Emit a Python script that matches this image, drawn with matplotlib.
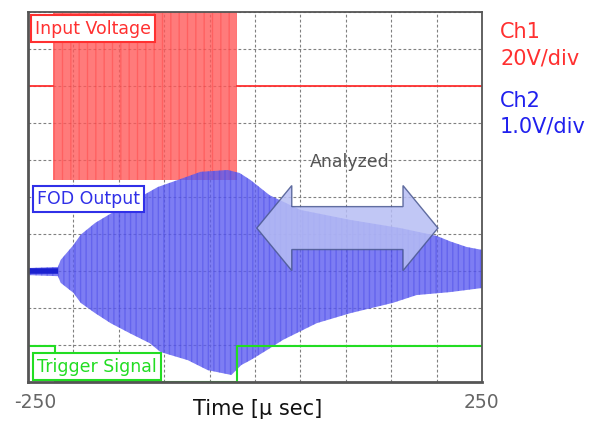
"""Oscilloscope capture: input burst, FOD output and trigger."""
import numpy as np
import matplotlib
matplotlib.use("Agg")
import matplotlib.pyplot as plt
from matplotlib.patches import Polygon

plt.rcParams["font.family"] = ["DejaVu Sans"]

# time axis in microseconds, vertical axis in divisions (0..10)
x_ticks = [-250, -200, -150, -100, -50, 0, 50, 100, 150, 200, 250]
end_labels = ["-250", "250"]

# Ch1: input voltage (baseline + burst, clipped at the top)
ch1_level = 8.0
ch1_line_t = [[-250, -222.5], [-20, 250]]
burst_t = [-222.5, -20]
burst_low = 5.46
burst_high = 10.54

# Ch2: FOD output envelope
upper_t = [-250, -217, -214, -200, -192, -176, -159, -138, -107, -85, -60,
           -30, -17, -5, 16, 50, 105, 160, 200, 215, 233, 250]
upper_v = [3.08, 3.11, 3.30, 3.70, 3.98, 4.30, 4.55, 4.84, 5.27, 5.46, 5.68,
           5.73, 5.65, 5.46, 5.05, 4.65, 4.38, 4.16, 3.95, 3.80, 3.65, 3.57]
lower_t = [-250, -217, -214, -200, -192, -176, -159, -138, -116, -104, -74,
           -52, -26, -15, -5, 13, 31, 68, 105, 152, 178, 215, 250]
lower_v = [2.89, 2.86, 2.68, 2.41, 2.14, 1.86, 1.59, 1.32, 1.05, 0.81, 0.59,
           0.32, 0.19, 0.46, 0.59, 0.86, 1.14, 1.59, 1.86, 2.14, 2.35, 2.43, 2.54]
quiet_t = [-250, -217]
quiet_v = [3.0, 3.0]

# trigger signal
trig_t = [-250, -220, -220, -20, -20, 250]
trig_v = [0.97, 0.97, 0.0, 0.0, 0.97, 0.97]

# "Analyzed" double arrow
arrow_t0, arrow_t1 = 2, 201.5
arrow_y = 4.16
shaft_half = 0.58
head_half = 1.15
head_len = 38.5

RED = "#ff3030"
BLUE = "#2020ee"
GREEN = "#22dd22"

fig = plt.figure(figsize=(5.9, 4.21), dpi=100)
ax = fig.add_axes([28 / 590, 39 / 421, 454 / 590, 370 / 421])
ax.set_xlim(-250, 250)
ax.set_ylim(0, 10)
ax.set_xticks(x_ticks)
ax.set_xticklabels([])
ax.set_yticks(range(11))
ax.set_yticklabels([])
ax.tick_params(length=0)
ax.grid(True, color="#808080", linestyle=(0, (2.5, 2)), linewidth=0.8)
ax.set_axisbelow(True)
for side, sp in ax.spines.items():
    sp.set_color("#555555")
    sp.set_linewidth(2.0 if side in ("left", "bottom") else 1.3)

# Ch1
for seg in ch1_line_t:
    ax.plot(seg, [ch1_level, ch1_level], color=RED, lw=1.3)
ax.fill_between(burst_t, [burst_low] * 2, [burst_high] * 2,
                color="#ff5a5a", alpha=0.8, lw=0)
ax.fill_between(burst_t, [burst_low] * 2, [burst_high] * 2,
                facecolor="none", hatch="||", edgecolor="#ff3030",
                lw=0, alpha=0.35)

# Ch2
env_t = np.concatenate([upper_t, lower_t[::-1]])
env_v = np.concatenate([upper_v, lower_v[::-1]])
ax.fill(env_t, env_v, color="#5c5cf0", alpha=0.8, lw=0)
ax.fill(env_t, env_v, facecolor="none", hatch="|||", edgecolor="#4646e6",
        lw=0, alpha=0.45)
ax.plot(quiet_t, quiet_v, color="#1a20d0", lw=4, solid_capstyle="butt")

# trigger
ax.plot(trig_t, trig_v, color=GREEN, lw=1.5)

# arrow
a0, a1 = arrow_t0, arrow_t1
verts = [
    (a0, arrow_y),
    (a0 + head_len, arrow_y + head_half),
    (a0 + head_len, arrow_y + shaft_half),
    (a1 - head_len, arrow_y + shaft_half),
    (a1 - head_len, arrow_y + head_half),
    (a1, arrow_y),
    (a1 - head_len, arrow_y - head_half),
    (a1 - head_len, arrow_y - shaft_half),
    (a0 + head_len, arrow_y - shaft_half),
    (a0 + head_len, arrow_y - head_half),
]
ax.add_patch(Polygon(verts, closed=True, facecolor="#b6bdf4", alpha=0.85,
                     edgecolor="#4a5890", lw=1.0, zorder=5))
ax.text((a0 + a1) / 2 + 3, 5.95, "Analyzed", color="#555555", fontsize=12.5,
        ha="center", va="center", zorder=6)

# trace labels
box = dict(boxstyle="square,pad=0.25", facecolor="white", lw=1.5)
ax.text(0.0154, 0.955, "Input Voltage", transform=ax.transAxes, color=RED,
        fontsize=12.5, va="center", ha="left", zorder=7,
        bbox=dict(box, edgecolor=RED))
ax.text(0.0198, 0.495, "FOD Output", transform=ax.transAxes, color="#3030e8",
        fontsize=12.5, va="center", ha="left", zorder=7,
        bbox=dict(box, edgecolor="#3030e8"))
ax.text(0.0198, 0.041, "Trigger Signal", transform=ax.transAxes, color=GREEN,
        fontsize=12.5, va="center", ha="left", zorder=7,
        bbox=dict(box, edgecolor=GREEN))

# axis end labels
fig.text(35 / 590, 1 - 403 / 421, end_labels[0], color="#666666",
         fontsize=13.5, ha="center", va="center")
fig.text(481 / 590, 1 - 403 / 421, end_labels[1], color="#666666",
         fontsize=13.5, ha="center", va="center")

# channel scales
fig.text(500 / 590, 1 - 32 / 421, "Ch1", color=RED, fontsize=15, va="center")
fig.text(500 / 590, 1 - 58 / 421, "20V/div", color=RED, fontsize=15, va="center")
fig.text(500 / 590, 1 - 101 / 421, "Ch2", color=BLUE, fontsize=15, va="center")
fig.text(500 / 590, 1 - 126 / 421, "1.0V/div", color=BLUE, fontsize=15, va="center")

fig.text(258 / 590, 1 - 409 / 421, "Time [\u03bc sec]", fontsize=15,
         ha="center", va="center", color="#111111")

fig.savefig("out.png", dpi=100)
